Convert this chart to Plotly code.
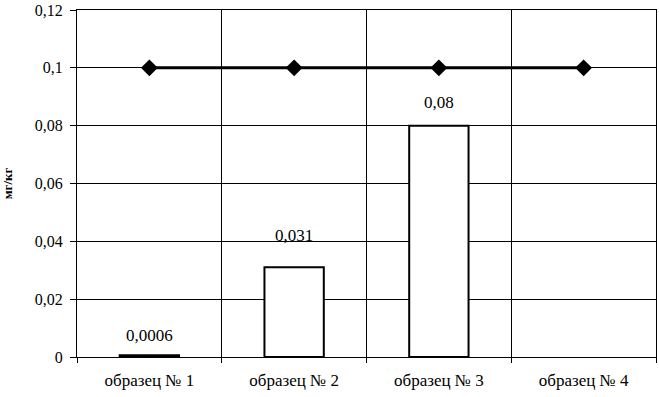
import plotly.graph_objects as go

categories = ["образец № 1", "образец № 2", "образец № 3", "образец № 4"]
sample_values = [0.0006, 0.031, 0.08, 0]
bar_labels = ["0,0006", "0,031", "0,08", ""]
limit_values = [0.1, 0.1, 0.1, 0.1]
y_tickvals = [0, 0.02, 0.04, 0.06, 0.08, 0.1, 0.12]
y_ticktext = ["0", "0,02", "0,04", "0,06", "0,08", "0,1", "0,12"]

font_family = "Times New Roman"

fig = go.Figure()
fig.add_trace(go.Bar(
    x=categories, y=sample_values, width=0.41,
    marker=dict(color="white", line=dict(color="black", width=[2, 2, 2, 0])),
    showlegend=False,
))
fig.add_trace(go.Scatter(
    x=categories, y=limit_values, mode="lines+markers",
    line=dict(color="black", width=3),
    marker=dict(symbol="diamond", size=13, color="black"),
    showlegend=False,
))
label_shifts = [8, 20, 12, 0]
for c, v, t, s in zip(categories, sample_values, bar_labels, label_shifts):
    if t:
        fig.add_annotation(x=c, y=v, text=t, showarrow=False, yanchor="bottom",
                           yshift=s, font=dict(family=font_family, size=17, color="black"))

fig.update_layout(
    width=659, height=397,
    margin=dict(l=77, r=3, t=10, b=40),
    paper_bgcolor="white", plot_bgcolor="white",
    font=dict(family=font_family, size=17, color="black"),
)
fig.update_xaxes(
    tickson="boundaries", ticks="outside", ticklen=5, tickcolor="black",
    showgrid=True, gridcolor="black", gridwidth=1,
    showline=True, linecolor="black", linewidth=1, mirror=True,
    tickfont=dict(family=font_family, size=17), range=[-0.5, 3.5],
    automargin=False, ticklabelstandoff=8,
)
fig.update_yaxes(
    range=[0, 0.12], tickvals=y_tickvals, ticktext=y_ticktext,
    ticks="outside", ticklen=6, tickcolor="black",
    showgrid=True, gridcolor="black", gridwidth=1,
    showline=True, linecolor="black", linewidth=1, mirror=True,
    zeroline=False, automargin=False, ticklabelstandoff=4,
    tickfont=dict(family=font_family, size=16),
    title=dict(text="<b>мг/кг</b>", font=dict(family=font_family, size=13), standoff=29),
)

fig.write_html("out.html", config={"displayModeBar": False},
               post_script="document.body.style.margin='0';")
